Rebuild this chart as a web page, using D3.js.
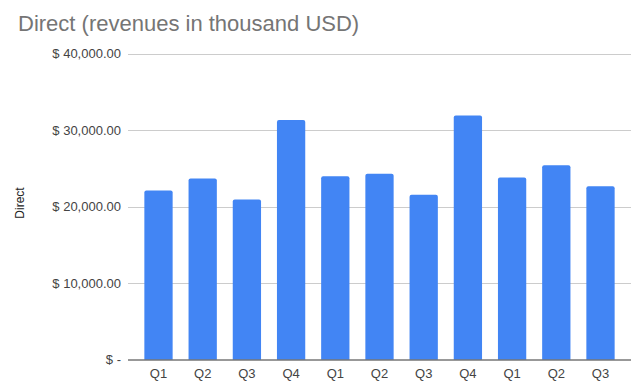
<!DOCTYPE html>
<html>
<head>
<meta charset="utf-8">
<script src="https://cdn.jsdelivr.net/npm/d3@7"></script>
<style>
  html, body { margin: 0; padding: 0; background: #fff; }
  svg { display: block; font-family: "Liberation Sans", Arial, sans-serif; }
</style>
</head>
<body>
<svg id="chart" width="643" height="389"></svg>
<script>
const categories = ["Q1", "Q2", "Q3", "Q4", "Q1", "Q2", "Q3", "Q4", "Q1", "Q2", "Q3"];
const directValues = [22100, 23650, 20900, 31300, 23950, 24280, 21530, 31900, 23800, 25400, 22650];
const yTicks = [0, 10000, 20000, 30000, 40000];
const title = "Direct (revenues in thousand USD)";
const yAxisTitle = "Direct";

const svg = d3.select("#chart");
const plot = { left: 128, right: 631, top: 53.5, bottom: 359.5 };

const x = d3.scaleBand()
  .domain(d3.range(categories.length))
  .range([plot.left, plot.right])
  .paddingInner(0.36)
  .paddingOuter(0.37);

const y = d3.scaleLinear()
  .domain([0, 40000])
  .range([plot.bottom, plot.top]);

const fmt = v => v === 0 ? "$ -" : "$ " + d3.format(",.2f")(v);

// title
svg.append("text")
  .attr("x", 18).attr("y", 31)
  .attr("font-size", 22)
  .attr("fill", "#757575")
  .text(title);

// gridlines
svg.append("g")
  .selectAll("line")
  .data(yTicks.filter(d => d !== 0))
  .join("line")
  .attr("x1", plot.left).attr("x2", plot.right)
  .attr("y1", d => Math.round(y(d)) + 0.5).attr("y2", d => Math.round(y(d)) + 0.5)
  .attr("stroke", "#cccccc").attr("stroke-width", 1);

// y axis labels via d3 axis
const yAxis = d3.axisLeft(y).tickValues(yTicks).tickFormat(fmt).tickSize(0).tickPadding(0);
const gy = svg.append("g").attr("transform", `translate(${plot.left - 7},0)`).call(yAxis);
gy.select(".domain").remove();
gy.selectAll("text")
  .attr("font-size", 13)
  .attr("font-family", "'Liberation Sans', Arial, sans-serif")
  .attr("fill", "#444444");

// y axis title
svg.append("text")
  .attr("transform", `translate(23.5,203) rotate(-90)`)
  .attr("text-anchor", "middle")
  .attr("font-size", 12)
  .attr("fill", "#222222")
  .text(yAxisTitle);

// bars with rounded tops
const r = 2;
svg.append("g")
  .selectAll("path")
  .data(directValues)
  .join("path")
  .attr("fill", "#4285F4")
  .attr("d", (d, i) => {
    const x0 = x(i), w = x.bandwidth(), y0 = y(d), yb = y(0);
    return `M${x0},${yb} L${x0},${y0 + r} Q${x0},${y0} ${x0 + r},${y0} L${x0 + w - r},${y0} Q${x0 + w},${y0} ${x0 + w},${y0 + r} L${x0 + w},${yb} Z`;
  });

// baseline
svg.append("line")
  .attr("x1", plot.left).attr("x2", plot.right)
  .attr("y1", plot.bottom + 0.5).attr("y2", plot.bottom + 0.5)
  .attr("stroke", "#333333").attr("stroke-width", 1);

// x axis labels
const xAxis = d3.axisBottom(x).tickFormat(i => categories[i]).tickSize(0).tickPadding(0);
const gx = svg.append("g").attr("transform", `translate(0,${plot.bottom + 9})`).call(xAxis);
gx.select(".domain").remove();
gx.selectAll("text")
  .attr("font-size", 13)
  .attr("font-family", "'Liberation Sans', Arial, sans-serif")
  .attr("fill", "#444444");
</script>
</body>
</html>
